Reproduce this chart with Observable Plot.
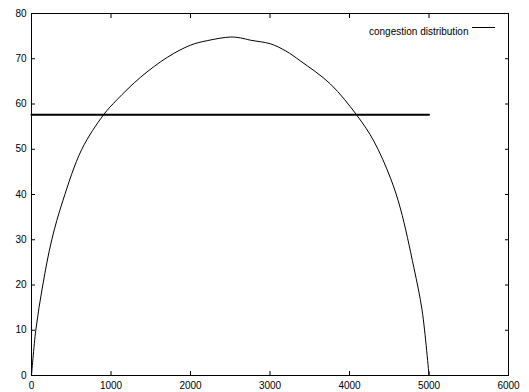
<!DOCTYPE html>
<html>
<head>
<meta charset="utf-8">
<script src="https://cdn.jsdelivr.net/npm/d3@7"></script>
<script src="https://cdn.jsdelivr.net/npm/@observablehq/plot@0.6"></script>
<style>
  html, body { margin: 0; padding: 0; background: #fff; }
  svg { display: block; }
</style>
</head>
<body>
<div id="chart"></div>
<script>
const curveX = [0, 54, 142, 255, 394, 633, 906, 1073, 1371, 1707, 2000, 2210, 2503, 2629, 2755, 3006, 3200, 3384, 3761, 4097, 4306, 4516, 4642, 4809, 4914, 5000];
const curveY = [0, 10, 20, 30, 38.6, 50, 57.6, 60.9, 65.9, 70.3, 73.0, 74.0, 74.8, 74.6, 74.1, 73.3, 71.7, 69.5, 64.4, 57.4, 51.8, 43.6, 36.8, 23.9, 14.3, 0];
const levelX = [0, 5000];
const levelValue = 57.6;
const xTicks = [0, 1000, 2000, 3000, 4000, 5000, 6000];
const yTicks = [0, 10, 20, 30, 40, 50, 60, 70, 80];
const legendLabel = "congestion distribution";

const curve = curveX.map((x, i) => ({x, y: curveY[i]}));
const level = levelX.map(x => ({x, y: levelValue}));

const font = "Liberation Sans, Arial, Helvetica, sans-serif";
const W = 529, H = 392, ML = 31, MR = 21, MT = 13, MB = 17;
const tickLen = 4;

const chart = Plot.plot({
  width: W,
  height: H,
  marginLeft: ML,
  marginRight: MR,
  marginTop: MT,
  marginBottom: MB,
  style: {fontFamily: font, fontSize: "10px", color: "#000", background: "#fff"},
  x: {domain: [0, 6000]},
  y: {domain: [0, 80]},
  marks: [
    Plot.axisX(xTicks, {anchor: "bottom", tickSize: 0, tickPadding: 6, label: null, fontSize: 10, tickFormat: d3.format("d")}),
    Plot.axisY(yTicks, {anchor: "left", tickSize: 0, tickPadding: 5, label: null, fontSize: 10, tickFormat: d3.format("d")}),
    // inward mirrored ticks: outward ticks shifted back inside the frame
    Plot.axisX(xTicks, {anchor: "bottom", tickSize: tickLen, text: null, label: null, stroke: "black", strokeOpacity: 1, dy: -tickLen}),
    Plot.axisX(xTicks, {anchor: "top", tickSize: tickLen, text: null, label: null, stroke: "black", strokeOpacity: 1, dy: tickLen}),
    Plot.axisY(yTicks, {anchor: "left", tickSize: tickLen, text: null, label: null, stroke: "black", strokeOpacity: 1, dx: tickLen}),
    Plot.axisY(yTicks, {anchor: "right", tickSize: tickLen, text: null, label: null, stroke: "black", strokeOpacity: 1, dx: -tickLen}),
    Plot.line(level, {x: "x", y: "y", stroke: "black", strokeWidth: 2}),
    Plot.line(curve, {x: "x", y: "y", stroke: "black", strokeWidth: 1, curve: "catmull-rom"}),
    Plot.frame({stroke: "black"}),
    Plot.text([legendLabel], {frameAnchor: "top-right", text: d => d, dx: -40, dy: 14, textAnchor: "end", fontSize: 10})
  ]
});

// legend sample line
d3.select(chart).append("line")
  .attr("x1", 472).attr("x2", 495)
  .attr("y1", 27.5).attr("y2", 27.5)
  .attr("stroke", "black").attr("stroke-width", 1);

document.getElementById("chart").appendChild(chart);
</script>
</body>
</html>
